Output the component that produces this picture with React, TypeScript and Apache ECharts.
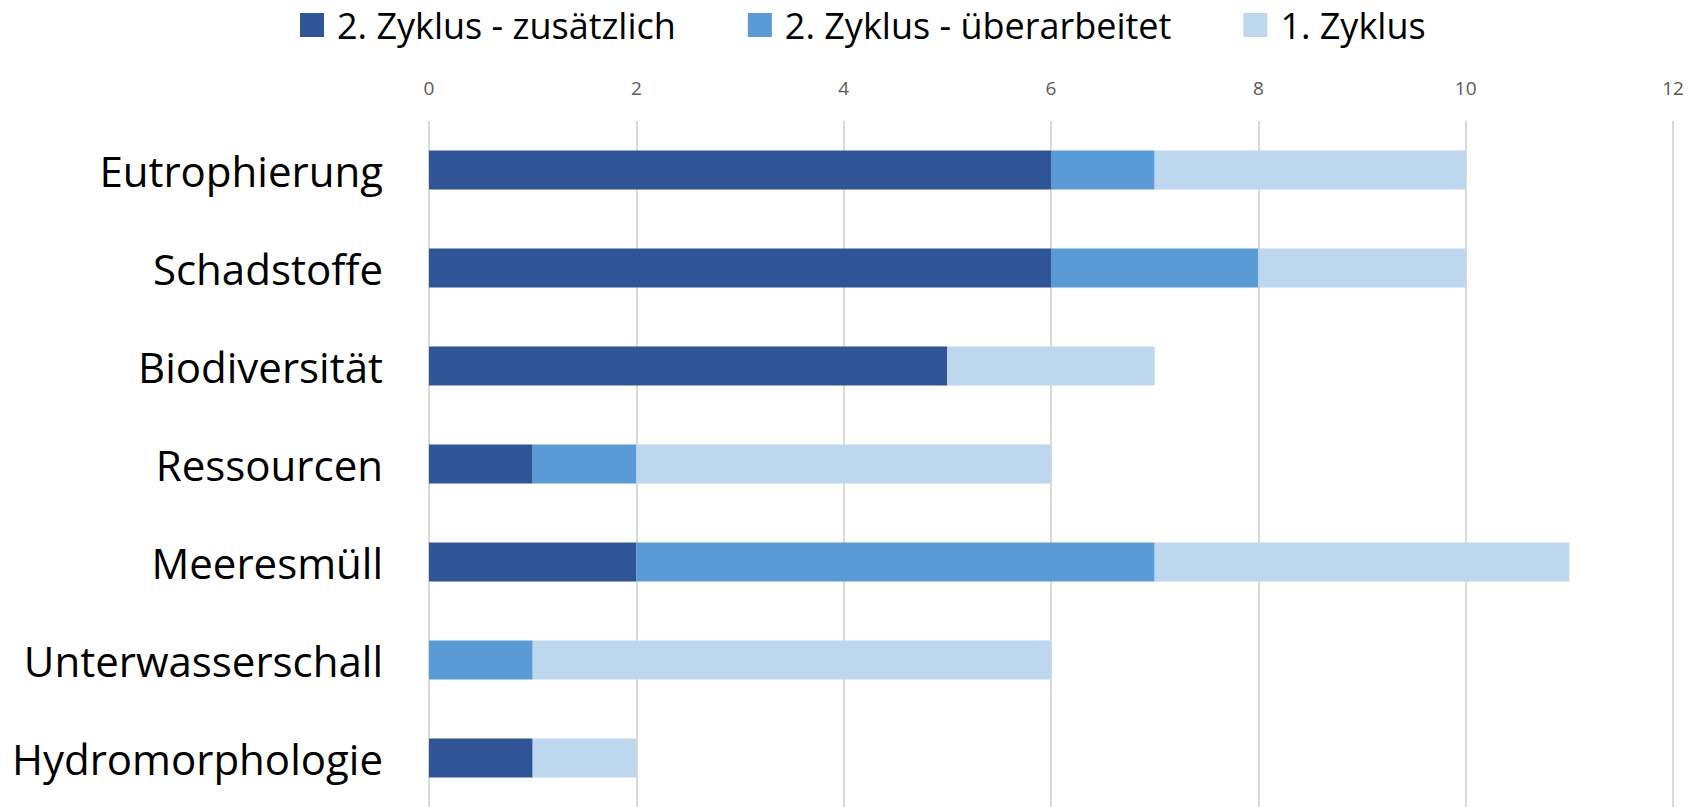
import React, { useEffect, useRef } from "react";
import * as echarts from "echarts";

const categories = [
  "Eutrophierung",
  "Schadstoffe",
  "Biodiversität",
  "Ressourcen",
  "Meeresmüll",
  "Unterwasserschall",
  "Hydromorphologie",
];
const zusaetzlich = [6, 6, 5, 1, 2, 0, 1];
const ueberarbeitet = [1, 2, 0, 1, 5, 1, 0];
const zyklus1 = [3, 2, 2, 4, 4, 5, 1];
const seriesNames = ["2. Zyklus - zusätzlich", "2. Zyklus - überarbeitet", "1. Zyklus"];
const colors = ["#2F5597", "#5B9BD5", "#BDD7EE"];

export default function App() {
  const ref = useRef<HTMLDivElement>(null);
  useEffect(() => {
    if (!ref.current) return;
    const chart = echarts.init(ref.current, undefined, { renderer: "svg" });
    const font = "'Open Sans', sans-serif";
    const data = [zusaetzlich, ueberarbeitet, zyklus1];
    chart.setOption({
      animation: false,
      textStyle: { fontFamily: font },
      legend: {
        top: 2,
        left: 295,
        itemWidth: 24,
        itemHeight: 24,
        itemGap: 72,
        icon: "rect",
        textStyle: { fontSize: 36, color: "#000", fontFamily: font, padding: [0, 0, 0, 8] },
        data: seriesNames,
      },
      grid: { left: 429, right: 17, top: 121, bottom: -2, containLabel: false },
      xAxis: {
        type: "value",
        position: "top",
        min: 0,
        max: 12,
        interval: 2,
        axisLine: { show: false },
        axisTick: { show: false },
        axisLabel: { fontSize: 19, color: "#595959", margin: 24 },
        splitLine: { show: true, lineStyle: { color: "#D9D9D9", width: 2 } },
      },
      yAxis: {
        type: "category",
        inverse: true,
        data: categories,
        axisLine: { show: false },
        axisTick: { show: false },
        axisLabel: { fontSize: 42, color: "#000", margin: 46 },
      },
      series: data.map((d, i) => ({
        name: seriesNames[i],
        type: "bar",
        stack: "total",
        barWidth: 39,
        itemStyle: { color: colors[i] },
        data: d,
      })),
    });
    return () => chart.dispose();
  }, []);
  return (
    <div
      ref={ref}
      style={{ position: "fixed", left: 0, top: 0, width: 1690, height: 807, background: "#fff" }}
    />
  );
}
